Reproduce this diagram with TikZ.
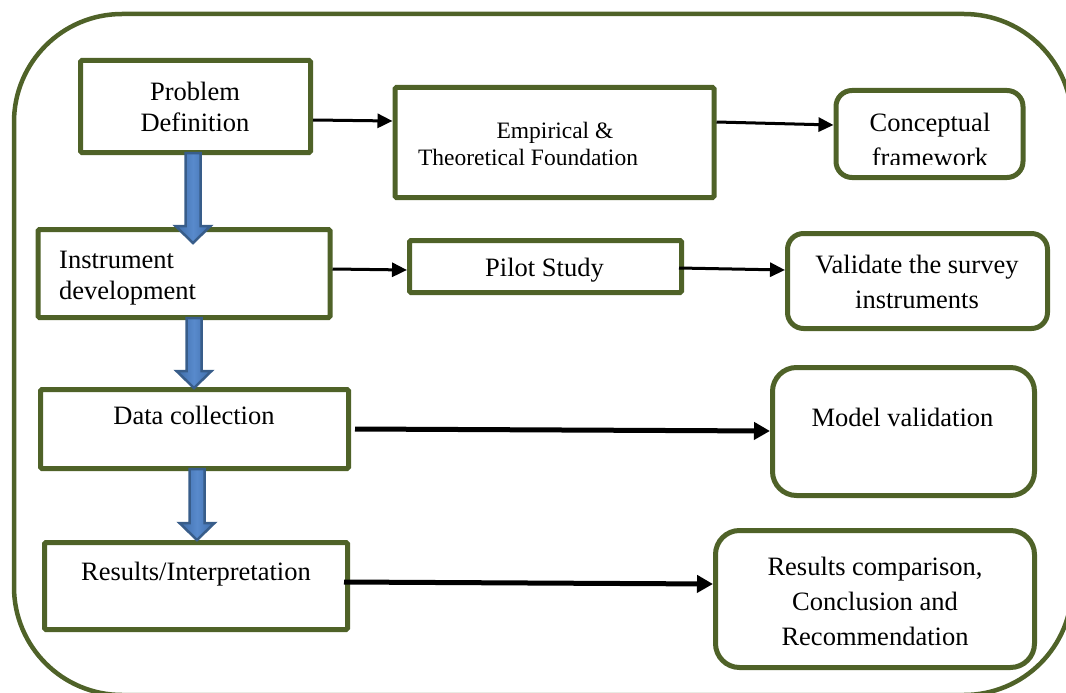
\documentclass[tikz,border=0pt]{standalone}
\usepackage{fontspec}
\setmainfont{Liberation Serif}
\usetikzlibrary{arrows.meta,calc}

\definecolor{framegreen}{RGB}{79,98,40}
\definecolor{arrowedge}{RGB}{56,93,138}
\definecolor{arrowfill}{RGB}{62,108,168}
\definecolor{arrowlight}{RGB}{88,138,204}

% block arrow between two stacked boxes:
% #1 shaft x, #2 upper node, #3 lower node, #4 how far the tip reaches into the lower node
\newcommand\blockarrow[4]{%
  \draw[blockarr] let \p1=(#2.south), \p2=(#3.north) in
    ({#1pt-7.5pt},{\y1+2pt}) -- ({#1pt+7.5pt},{\y1+2pt})
    -- ({#1pt+7.5pt},{\y2-#4pt+17pt}) -- ({#1pt+17.5pt},{\y2-#4pt+17pt})
    -- (#1pt,{\y2-#4pt})
    -- ({#1pt-17.5pt},{\y2-#4pt+17pt}) -- ({#1pt-7.5pt},{\y2-#4pt+17pt}) -- cycle;}

\begin{document}
\begin{tikzpicture}[x=1pt,y=-1pt,
  frame/.style={draw=framegreen,line width=4.5pt,rounded corners=108pt},
  box/.style={draw=framegreen,line width=5pt,inner sep=0pt,rounded corners=1.5pt,fill=white},
  roundbox/.style={box,rounded corners=16pt},
  bigroundbox/.style={box,rounded corners=24pt},
  txt/.style={inner sep=0pt,align=center,font=\fontsize{26.5}{31}\selectfont},
  widetxt/.style={txt,font=\fontsize{26.5}{35}\selectfont},
  smalltxt/.style={txt,font=\fontsize{23.5}{27}\selectfont},
  arr/.style={line width=3pt,-{Triangle[length=15pt,width=14pt]}},
  bigarr/.style={line width=5pt,-{Triangle[length=16pt,width=17pt]}},
  blockarr/.style={draw=arrowedge,line width=2.5pt,line join=miter,
    left color=arrowfill,right color=arrowfill,middle color=arrowlight}
]
\useasboundingbox (0,0) rectangle (1066,693);

% outer frame
\draw[frame] (14,14) rectangle (1072,695);

% boxes
\node[box,minimum width=230pt,minimum height=92pt] (pd) at (195.5,106.5) {};
\node[box,minimum width=319pt,minimum height=110pt] (ef) at (554.5,142.5) {};
\node[roundbox,minimum width=187pt,minimum height=87pt] (cf) at (929.5,134) {};
\node[box,minimum width=292pt,minimum height=88pt] (id) at (184,273.5) {};
\node[box,minimum width=272pt,minimum height=52pt] (ps) at (545.5,266.5) {};
\node[roundbox,minimum width=260pt,minimum height=95pt] (vs) at (917.5,281) {};
\node[box,minimum width=308pt,minimum height=79pt] (dc) at (194.5,429) {};
\node[bigroundbox,minimum width=262pt,minimum height=128pt] (mv) at (903.5,431.5) {};
\node[box,minimum width=303pt,minimum height=87pt] (ri) at (196,586) {};
\node[bigroundbox,minimum width=319pt,minimum height=137pt] (rc) at (875,599) {};

% texts
\node[txt] (pdt) at (195,110) {\strut Problem\\\strut Definition};
\node[smalltxt] (eft) at (555,146.5) {\strut Empirical \&\\\strut Theoretical Foundation\hspace*{54pt}\null};
\begin{scope}
  \clip (800,80) rectangle (1040,164);
  \node[widetxt] (cft) at (930,141.5) {\strut Conceptual\\\strut framework};
\end{scope}
\node[txt,align=left,anchor=west] (idt) at (59,277.5) {\strut Instrument\\\strut development};
\node[txt] (pst) at (544.5,270) {\strut Pilot Study};
\node[widetxt] (vst) at (917,284) {\strut Validate the survey\\\strut instruments};
\node[txt] (dct) at (194,418) {\strut Data collection};
\node[txt] (mvt) at (902.5,420) {\strut Model validation};
\node[txt] (rit) at (196,574) {\strut Results/Interpretation};
\node[widetxt] (rct) at (875,603) {\strut Results comparison,\\\strut Conclusion and\\\strut Recommendation};

% horizontal connectors
\coordinate (psout) at ([xshift=-5pt]ps.east);
\coordinate (dcout) at ([xshift=4pt]dc.east);
\coordinate (riout) at ([xshift=-6pt]ri.east);
\draw[arr] (pd.east |- 0,120) -- (ef.west |- 0,121);
\draw[arr] (ef.east |- 0,122) -- (cf.west |- 0,125);
\draw[arr] (id.east |- 0,269) -- (ps.west |- 0,270);
\draw[arr] (psout |- 0,268) -- (vs.west |- 0,270);
\draw[bigarr] (dcout |- 0,429) -- (mv.west |- 0,431);
\draw[bigarr] (riout |- 0,582) -- (rc.west |- 0,584);

% vertical block arrows
\blockarrow{193}{pd}{id}{16}
\blockarrow{194}{id}{dc}{1}
\blockarrow{197}{dc}{ri}{0}
\end{tikzpicture}
\end{document}
